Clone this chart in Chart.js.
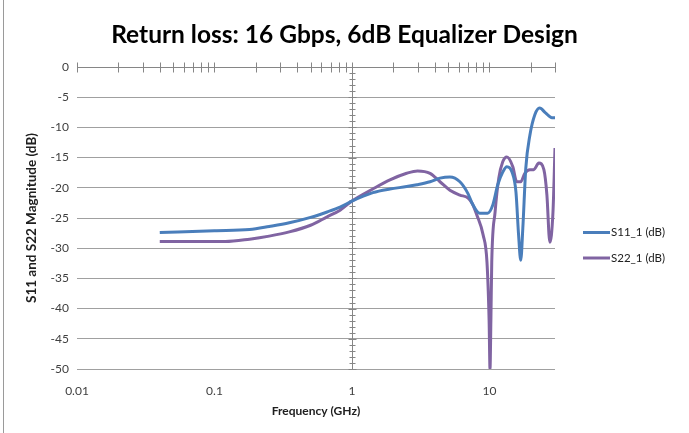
<!DOCTYPE html>
<html>
<head>
<meta charset="utf-8">
<script src="https://cdn.jsdelivr.net/npm/chart.js@4/dist/chart.umd.min.js"></script>
<style>
  html, body { margin: 0; padding: 0; background: #fff; }
  #wrap { position: relative; width: 689px; height: 433px; }
  #frame { position: absolute; left: 3px; top: 0; width: 1px; height: 433px; background: #9a9a9a; }
</style>
</head>
<body>
<div id="wrap">
  <canvas id="c" width="689" height="433"></canvas>
  <div id="frame"></div>
</div>
<script>
// Frequency points (GHz) and return loss (dB) for each port
const s11Freq = [0.04, 0.1, 0.18, 0.25, 0.35, 0.5, 0.66, 0.82, 1.0, 1.42, 1.89, 2.5, 2.97, 3.7, 4.37, 5.16, 6.1, 7.0, 7.5, 8.5, 9.7, 10.6, 11.5, 12.5, 13.4, 14.6, 15.6, 16.3, 16.9, 17.5, 18.4, 19.7, 21.4, 23.2, 25.6, 28.5, 30];
const s11Db   = [-27.4, -27.1, -26.9, -26.4, -25.8, -24.9, -24.0, -23.2, -22.2, -20.8, -20.2, -19.8, -19.5, -19.0, -18.4, -18.2, -19.0, -21.0, -22.6, -24.2, -24.2, -22.8, -19.5, -17.4, -16.5, -17.4, -20.7, -27.8, -32.0, -26.7, -16.7, -11.3, -7.9, -6.8, -7.6, -8.4, -8.4];

const s22Freq = [0.04, 0.12, 0.18, 0.25, 0.35, 0.5, 0.66, 0.82, 1.0, 1.42, 1.89, 2.5, 3.0, 3.7, 4.37, 5.16, 6.1, 7.0, 7.5, 8.1, 9.0, 9.6, 9.95, 10.1, 10.25, 10.4, 11.0, 11.7, 12.5, 13.4, 14.8, 15.8, 16.9, 18.1, 19.7, 21.0, 22.9, 24.9, 26.2, 27.5, 29.0, 30];
const s22Db   = [-28.9, -28.9, -28.5, -28.0, -27.3, -26.2, -24.8, -23.7, -22.2, -20.2, -18.7, -17.6, -17.2, -17.6, -19.0, -20.4, -21.2, -21.7, -22.6, -24.5, -27.8, -32.3, -42.0, -50.0, -42.0, -32.3, -24.0, -18.4, -15.7, -14.9, -16.5, -19.0, -19.0, -17.6, -17.0, -17.0, -15.9, -17.0, -21.2, -29.0, -24.0, -13.4];

const xTickValues = [0.01, 0.1, 1, 10];
const seriesNames = ['S11_1 (dB)', 'S22_1 (dB)'];
const seriesColors = ['#4a7ebb', '#8064a2'];

const toPoints = (xs, ys) => xs.map((f, i) => ({ x: f, y: ys[i] }));

const FONT = 'Lato, "Open Sans", sans-serif';
const AXIS_GREY = '#868686';

// Axes crossing inside the plot: the frequency axis runs along 0 dB,
// the magnitude axis stands at 1 GHz.
const crossAxes = {
  id: 'crossAxes',
  beforeDatasetsDraw(chart) {
    const { ctx, scales: { x, y } } = chart;
    ctx.save();
    ctx.strokeStyle = AXIS_GREY;
    ctx.lineWidth = 1;
    const yAxis = Math.round(y.getPixelForValue(0)) + 0.5;
    ctx.beginPath();
    ctx.moveTo(x.left, yAxis);
    ctx.lineTo(x.right, yAxis);
    for (let d = x.min; d <= x.max * 1.0001; d *= 10) {
      for (let m = 1; m <= 9; m++) {
        const v = d * m;
        if (v > x.max * 1.0001) break;
        const px = Math.round(x.getPixelForValue(v)) + 0.5;
        ctx.moveTo(px, yAxis - 5);
        ctx.lineTo(px, yAxis + 5);
      }
    }
    const xAxis = Math.round(x.getPixelForValue(1)) + 0.5;
    ctx.moveTo(xAxis, y.top);
    ctx.lineTo(xAxis, y.bottom);
    for (let v = y.max; v >= y.min; v -= 1) {
      const py = Math.round(y.getPixelForValue(v)) + 0.5;
      const len = (v % 5 === 0) ? 4 : 3;
      ctx.moveTo(xAxis - len, py);
      ctx.lineTo(xAxis + len, py);
    }
    ctx.stroke();
    ctx.restore();
  }
};

// Legend on the right: a short line sample followed by the series name
const sideLegend = {
  id: 'sideLegend',
  afterDraw(chart) {
    const { ctx } = chart;
    ctx.save();
    ctx.font = '11.5px ' + FONT;
    ctx.textBaseline = 'middle';
    ctx.textAlign = 'left';
    chart.data.datasets.forEach((ds, i) => {
      const yy = 232.5 + i * 25.5;
      ctx.strokeStyle = ds.borderColor;
      ctx.lineWidth = 3;
      ctx.beginPath();
      ctx.moveTo(583, yy);
      ctx.lineTo(610, yy);
      ctx.stroke();
      ctx.fillStyle = '#202020';
      ctx.fillText(ds.label, 611, yy);
    });
    ctx.restore();
  }
};

new Chart(document.getElementById('c'), {
  type: 'line',
  data: {
    datasets: [
      { label: seriesNames[0], data: toPoints(s11Freq, s11Db), borderColor: seriesColors[0], backgroundColor: seriesColors[0] },
      { label: seriesNames[1], data: toPoints(s22Freq, s22Db), borderColor: seriesColors[1], backgroundColor: seriesColors[1] }
    ]
  },
  options: {
    responsive: false,
    animation: false,
    events: [],
    layout: { padding: 0 },
    elements: {
      point: { radius: 0 },
      line: { borderWidth: 3, tension: 0.4, cubicInterpolationMode: 'monotone', capBezierPoints: true }
    },
    plugins: {
      legend: { display: false },
      tooltip: { enabled: false },
      title: {
        display: true,
        text: 'Return loss: 16 Gbps, 6dB Equalizer Design',
        color: '#000',
        font: { family: FONT, size: 24.5, weight: 'bold', lineHeight: 1.2 },
        padding: { top: 20, bottom: 17.6 }
      }
    },
    scales: {
      x: {
        type: 'logarithmic',
        min: 0.01,
        max: 30,
        afterBuildTicks(scale) {
          scale.ticks = xTickValues.map(v => ({ value: v }));
        },
        afterFit(scale) { scale.height = 64; },
        grid: { display: false, drawTicks: false },
        border: { display: false },
        ticks: {
          autoSkip: false,
          maxRotation: 0,
          padding: 15,
          color: '#404040',
          font: { family: FONT, size: 12 },
          callback: (v) => String(v)
        },
        title: {
          display: true,
          text: 'Frequency (GHz)',
          color: '#202020',
          font: { family: FONT, size: 12, weight: 'bold', lineHeight: 1.2 },
          padding: { top: 0, bottom: 14.8 }
        }
      },
      y: {
        min: -50,
        max: 0,
        afterFit(scale) { scale.width = 77; },
        grid: { color: '#a0a0a0', lineWidth: 1, drawTicks: false },
        border: { display: false },
        ticks: {
          stepSize: 5,
          padding: 8,
          color: '#404040',
          font: { family: FONT, size: 12 }
        },
        title: {
          display: true,
          text: 'S11 and S22 Magnitude (dB)',
          color: '#202020',
          font: { family: FONT, size: 13.5, weight: 'bold', lineHeight: 1.2 },
          padding: { top: 24, bottom: 0 }
        }
      },
      // empty right-hand band that holds the legend
      legendBand: {
        type: 'linear',
        position: 'right',
        display: true,
        afterFit(scale) { scale.width = 134; },
        grid: { display: false, drawTicks: false },
        border: { display: false },
        ticks: { display: false }
      }
    }
  },
  plugins: [crossAxes, sideLegend]
});
</script>
</body>
</html>
